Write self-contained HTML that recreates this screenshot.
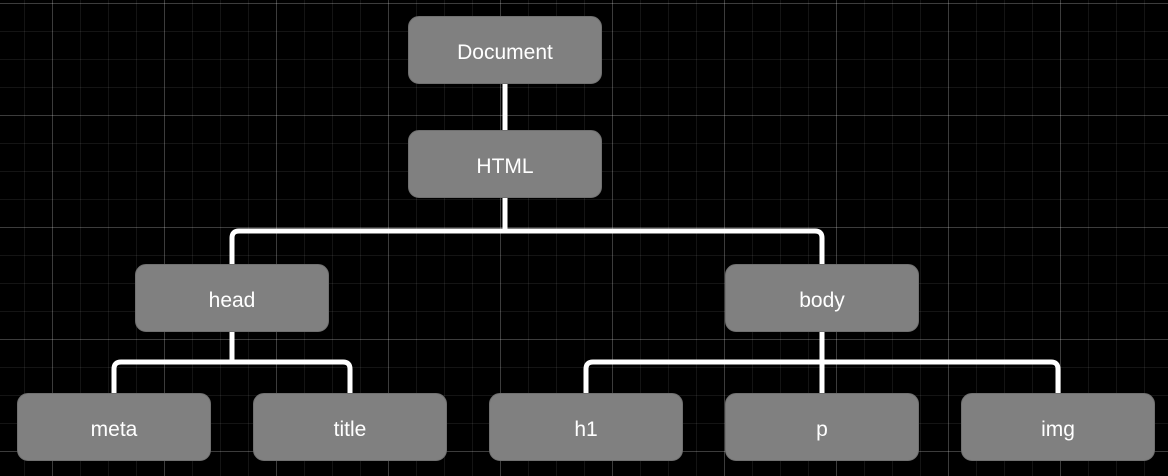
<!DOCTYPE html>
<html><head><style>
html,body{margin:0;padding:0;}
body{width:1168px;height:476px;overflow:hidden;background-color:#000;
background-image:
linear-gradient(to right,rgba(255,255,255,0.17) 1px,transparent 1px),
linear-gradient(to bottom,rgba(255,255,255,0.17) 1px,transparent 1px),
linear-gradient(to right,rgba(255,255,255,0.08) 1px,transparent 1px),
linear-gradient(to bottom,rgba(255,255,255,0.08) 1px,transparent 1px);
background-size:112px 112px,112px 112px,28px 28px,28px 28px;
background-position:52px 0,0 3px,24px 0,0 3px;
position:relative;font-family:"Liberation Sans",sans-serif;}
.n{position:absolute;width:194px;height:68px;background:#808080;border-radius:11px;color:#fff;font-size:21px;display:flex;align-items:center;justify-content:center;box-sizing:border-box;border:1px solid #707070;padding-top:5px;}
svg{position:absolute;left:0;top:0;}
</style></head><body>
<svg width="1168" height="476">
<g fill="none" stroke="#fff" stroke-width="5" stroke-linejoin="round">
<line x1="505" y1="84" x2="505" y2="130"/>
<path d="M505 198 V231 M232 264 V238 Q232 231 239 231 H815 Q822 231 822 238 V264"/>
<path d="M232 332 V362 M114 393 V369 Q114 362 121 362 H343 Q350 362 350 369 V393"/>
<path d="M822 332 V393 M586 393 V369 Q586 362 593 362 H1051 Q1058 362 1058 369 V393"/>
</g>
</svg>
<div class="n" style="left:408px;top:16px">Document</div>
<div class="n" style="left:408px;top:130px">HTML</div>
<div class="n" style="left:135px;top:264px">head</div>
<div class="n" style="left:725px;top:264px">body</div>
<div class="n" style="left:17px;top:393px">meta</div>
<div class="n" style="left:253px;top:393px">title</div>
<div class="n" style="left:489px;top:393px">h1</div>
<div class="n" style="left:725px;top:393px">p</div>
<div class="n" style="left:961px;top:393px">img</div>
</body></html>
